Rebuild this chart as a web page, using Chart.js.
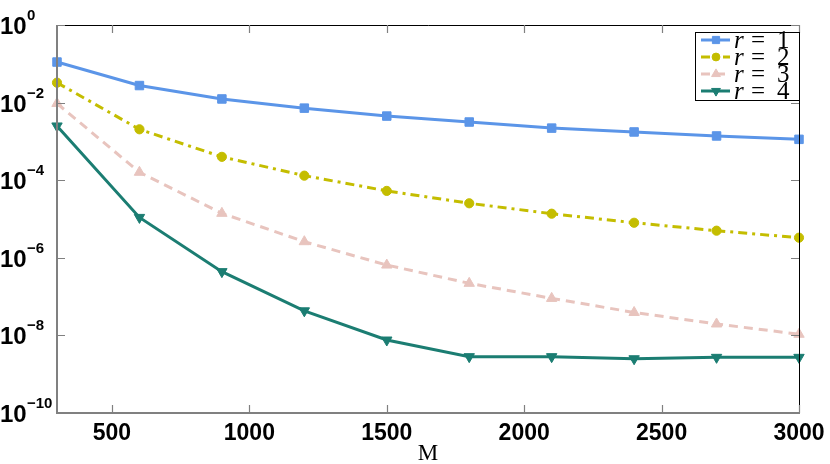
<!DOCTYPE html>
<html>
<head>
<meta charset="utf-8">
<script src="https://cdn.jsdelivr.net/npm/chart.js@4/dist/chart.umd.min.js"></script>
<style>
  html, body { margin: 0; padding: 0; background: #fff; }
  canvas { display: block; }
</style>
</head>
<body>
<canvas id="errChart" width="830" height="464"></canvas>
<script>
// values
const mValues = [300, 600, 900, 1200, 1500, 1800, 2100, 2400, 2700, 3000];
const errR1 = [0.111, 0.0275, 0.0124, 0.0072, 0.0045, 0.00316, 0.0022, 0.00175, 0.00138, 0.00113];
const errR2 = [0.0326, 0.00205, 4.0e-4, 1.31e-4, 5.3e-5, 2.54e-5, 1.37e-5, 8.0e-6, 5.0e-6, 3.3e-6];
const errR3 = [0.0095, 1.6e-4, 1.4e-5, 2.6e-6, 6.5e-7, 2.2e-7, 9.0e-8, 3.9e-8, 1.97e-8, 1.07e-8];
const errR4 = [2.5e-3, 1.1e-5, 4.4e-7, 4.3e-8, 7.6e-9, 2.83e-9, 2.83e-9, 2.5e-9, 2.72e-9, 2.72e-9];
const seriesLabels = ["1", "2", "3", "4"];
const xTicks = [500, 1000, 1500, 2000, 2500, 3000];
const yExponents = [0, -2, -4, -6, -8, -10];

const pts = arr => arr.map((v, i) => ({ x: mValues[i], y: v }));

// frame, inward ticks, tick labels and legend, MATLAB style
const matlabLook = {
  id: 'matlabLook',
  afterDraw(chart) {
    const { ctx, chartArea: a, scales: { x, y } } = chart;
    ctx.save();

    // box
    ctx.lineWidth = 1;
    ctx.strokeStyle = '#000';
    ctx.beginPath();
    ctx.moveTo(a.left, a.top + 0.5); ctx.lineTo(a.right + 0.5, a.top + 0.5);
    ctx.lineTo(a.right + 0.5, a.bottom);
    ctx.stroke();
    ctx.lineWidth = 2;
    ctx.strokeStyle = '#808080';
    ctx.beginPath();
    ctx.moveTo(a.left, a.top); ctx.lineTo(a.left, a.bottom); ctx.lineTo(a.right + 1, a.bottom);
    ctx.stroke();

    // inward ticks
    ctx.lineWidth = 1.2;
    ctx.strokeStyle = '#808080';
    ctx.beginPath();
    xTicks.forEach(v => {
      const px = Math.round(x.getPixelForValue(v)) + 0.5;
      ctx.moveTo(px, a.bottom); ctx.lineTo(px, a.bottom - 8);
      ctx.moveTo(px, a.top); ctx.lineTo(px, a.top + 8);
    });
    yExponents.forEach(e => {
      const py = Math.round(y.getPixelForValue(Math.pow(10, e))) + 0.5;
      ctx.moveTo(a.left, py); ctx.lineTo(a.left + 8, py);
      ctx.moveTo(a.right, py); ctx.lineTo(a.right - 8, py);
    });
    ctx.stroke();

    // y labels: 10 with raised exponent
    ctx.fillStyle = '#000';
    ctx.textBaseline = 'alphabetic';
    ctx.textAlign = 'left';
    yExponents.forEach(e => {
      const py = y.getPixelForValue(Math.pow(10, e));
      ctx.font = 'bold 24px "Liberation Sans", Arial, sans-serif';
      ctx.fillText('10', 0, py + 9);
      ctx.font = 'bold 15px "Liberation Sans", Arial, sans-serif';
      ctx.fillText(e < 0 ? '\u2212' + (-e) : String(e), 27, py - 5);
    });

    // x labels
    ctx.textAlign = 'center';
    ctx.font = 'bold 23px "Liberation Sans", Arial, sans-serif';
    xTicks.forEach(v => ctx.fillText(String(v), x.getPixelForValue(v), a.bottom + 27));

    // axis title
    ctx.font = '23px "Liberation Serif", "DejaVu Serif", serif';
    ctx.fillText('M', (a.left + a.right) / 2, 460);

    // legend box
    const lx = 695, ly = 32, lw = a.right - 695, lh = 68;
    ctx.fillStyle = '#fff';
    ctx.fillRect(lx, ly, lw, lh);
    ctx.lineWidth = 1;
    ctx.strokeStyle = '#000';
    ctx.strokeRect(lx + 0.5, ly + 0.5, lw, lh);

    chart.data.datasets.forEach((ds, i) => {
      const base = 48 + i * 17;
      const my = base - 8;
      ctx.save();
      ctx.strokeStyle = ds.borderColor;
      ctx.fillStyle = ds.borderColor;
      ctx.lineWidth = ds.borderWidth;
      ctx.setLineDash(ds.borderDash || []);
      ctx.beginPath();
      ctx.moveTo(701, my); ctx.lineTo(730, my);
      ctx.stroke();
      ctx.setLineDash([]);
      ctx.lineWidth = 1;
      Chart.helpers.drawPoint(ctx, {
        pointStyle: ds.pointStyle,
        rotation: ds.pointRotation || 0,
        radius: ds.pointRadius * 0.85,
        borderWidth: 1
      }, 716, my);
      ctx.restore();
      ctx.fillStyle = '#000';
      ctx.textAlign = 'left';
      ctx.font = 'italic 25px "Liberation Serif", "DejaVu Serif", serif';
      ctx.fillText('r', 734, base);
      ctx.font = '25px "Liberation Serif", "DejaVu Serif", serif';
      ctx.fillText('=', 751, base);
      ctx.fillText(seriesLabels[i], 777, base);
    });

    ctx.restore();
  }
};

function line(label, data, color, style, radius, dash, rotation) {
  return {
    label: 'r = ' + label,
    data: pts(data),
    borderColor: color,
    backgroundColor: color,
    pointBackgroundColor: color,
    pointBorderColor: color,
    borderWidth: 3,
    borderDash: dash,
    pointStyle: style,
    pointRadius: radius,
    pointRotation: rotation,
    pointBorderWidth: 1,
    tension: 0,
    clip: false
  };
}

new Chart(document.getElementById('errChart'), {
  type: 'line',
  data: {
    datasets: [
      line(seriesLabels[0], errR1, '#5b95e8', 'rect', 6, [], 0),
      line(seriesLabels[1], errR2, '#c4bd00', 'circle', 4.6, [9, 5, 3, 5], 0),
      line(seriesLabels[2], errR3, '#e8c4be', 'triangle', 6, [9, 6], 0),
      line(seriesLabels[3], errR4, '#1b7d72', 'triangle', 6, [], 180)
    ]
  },
  plugins: [matlabLook],
  options: {
    responsive: false,
    animation: false,
    layout: { padding: { top: 25, right: 31, left: 0, bottom: 0 } },
    plugins: { legend: { display: false }, tooltip: { enabled: false } },
    scales: {
      x: {
        type: 'linear',
        min: 300,
        max: 3000,
        grid: { display: false },
        border: { display: false },
        ticks: { display: false },
        afterFit: s => { s.height = 51; }
      },
      y: {
        type: 'logarithmic',
        min: 1e-10,
        max: 1,
        grid: { display: false },
        border: { display: false },
        ticks: { display: false },
        afterFit: s => { s.width = 57; }
      }
    }
  }
});
</script>
</body>
</html>
